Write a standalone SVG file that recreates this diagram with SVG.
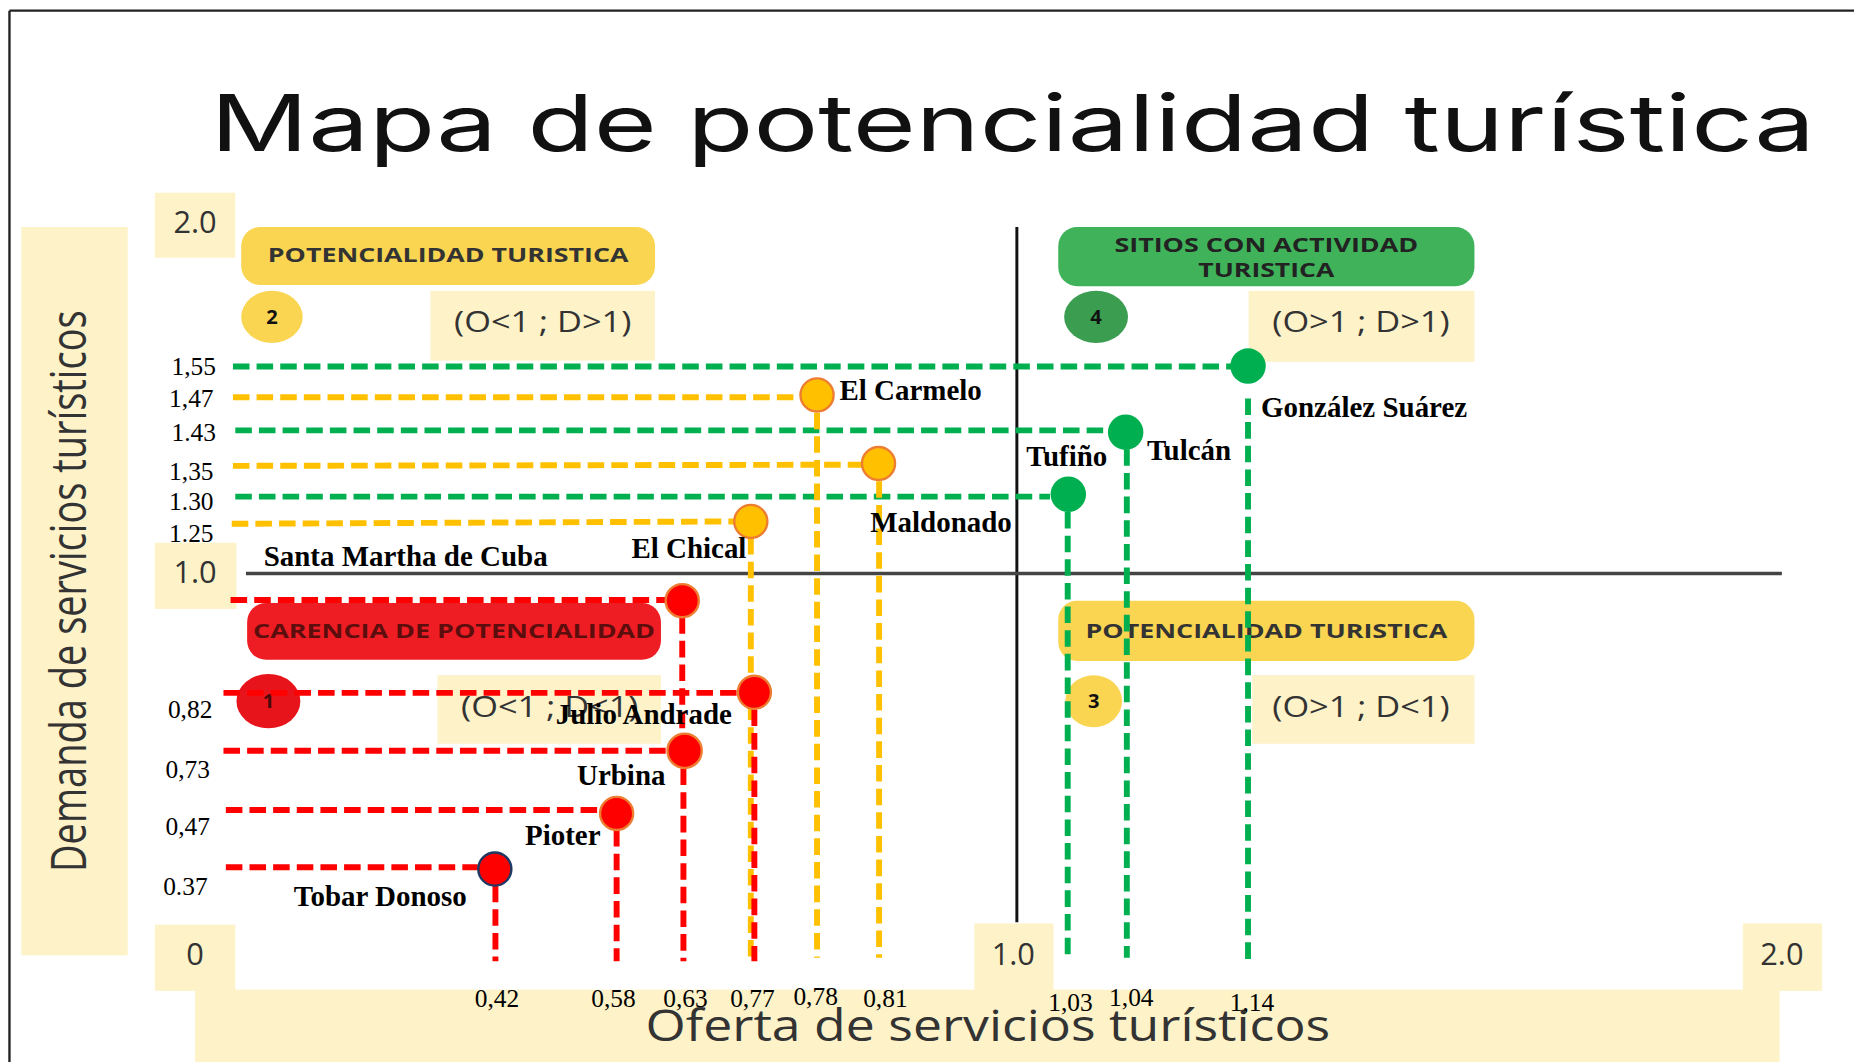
<svg xmlns="http://www.w3.org/2000/svg" width="1854" height="1062" viewBox="0 0 1854 1062">
<style>
.lb{fill:#fdf2c8}
.ax{font-family:"Open Sans","Noto Sans","Liberation Sans",sans-serif;fill:#333}
.pt{font-family:"Open Sans","Noto Sans","Liberation Sans",sans-serif;font-weight:bold;font-size:17px;text-anchor:middle}
.cd{font-family:"Open Sans","Noto Sans","Liberation Sans",sans-serif;font-size:25px;fill:#333;text-anchor:middle}
.num{font-family:"Liberation Serif","Times New Roman",serif;font-size:21.5px;fill:#000}
.nm{font-family:"Liberation Serif","Times New Roman",serif;font-size:24.5px;font-weight:bold;fill:#000}
.dg,.dy,.dr{stroke-width:5;stroke-dasharray:14 6;fill:none}
.dg{stroke:#00b050}.dy{stroke:#ffc000}.dr{stroke:#ff0000}
.cg{fill:#00b050}
.cy{fill:#ffc000;stroke:#ed7d31;stroke-width:2}
.cr{fill:#ff0000;stroke:#ed7d31;stroke-width:2}
</style>
<rect width="1854" height="1062" fill="#fff"/>
<g transform="scale(1.1824)">
<g id="frame">
<line x1="8" y1="9" x2="1570" y2="9" stroke="#222" stroke-width="2"/>
<line x1="8" y1="9" x2="8" y2="900" stroke="#222" stroke-width="2"/>
</g>
<g id="title">
<text x="178" y="128" font-family="Inter,'Open Sans','Noto Sans',sans-serif" font-size="66" fill="#111" textLength="1357" lengthAdjust="spacingAndGlyphs">Mapa de potencialidad turística</text>
</g>
<g id="axes">
<rect class="lb" x="18" y="192" width="90" height="616"/>
<text class="ax" transform="translate(73,500) rotate(-90)" font-size="42" text-anchor="middle" textLength="475" lengthAdjust="spacingAndGlyphs">Demanda de servicios turísticos</text>
<rect class="lb" x="131" y="163" width="68" height="55"/>
<rect class="lb" x="131" y="459" width="69" height="56"/>
<rect class="lb" x="131" y="782" width="68" height="56"/>
<rect class="lb" x="165" y="837" width="1340" height="65"/>
<rect class="lb" x="824" y="781" width="67" height="57"/>
<rect class="lb" x="1474" y="781" width="67" height="57"/>
<text class="ax" x="165" y="197" font-size="26" text-anchor="middle">2.0</text>
<text class="ax" x="165" y="493" font-size="26" text-anchor="middle">1.0</text>
<text class="ax" x="165" y="816" font-size="26" text-anchor="middle">0</text>
<text class="ax" x="857" y="816" font-size="26" text-anchor="middle">1.0</text>
<text class="ax" x="1507" y="816" font-size="26" text-anchor="middle">2.0</text>
<text class="ax" x="835.5" y="880" font-size="37" text-anchor="middle" textLength="579" lengthAdjust="spacingAndGlyphs">Oferta de servicios turísticos</text>
<line x1="860" y1="192" x2="860" y2="780" stroke="#111" stroke-width="2.5"/>
<line x1="208" y1="485" x2="1507" y2="485" stroke="#444" stroke-width="3"/>
</g>
<g id="q2">
<rect x="204" y="192" width="350" height="49" rx="16" fill="#fad552"/>
<text class="pt" x="379" y="222" fill="#333" textLength="305" lengthAdjust="spacingAndGlyphs">POTENCIALIDAD TURISTICA</text>
<ellipse cx="230" cy="268" rx="26" ry="22" fill="#fad552"/>
<text class="pt" x="230" y="274" font-size="16" fill="#111">2</text>
<rect class="lb" x="364" y="246" width="190" height="59"/>
<text class="cd" x="459" y="281" textLength="150" lengthAdjust="spacingAndGlyphs">(O&lt;1 ; D&gt;1)</text>
</g>
<g id="q4">
<rect x="895" y="192" width="352" height="50" rx="16" fill="#40b35a"/>
<text class="pt" x="1071" y="213" fill="#222" textLength="257" lengthAdjust="spacingAndGlyphs">SITIOS CON ACTIVIDAD</text>
<text class="pt" x="1071" y="234" fill="#222" textLength="115" lengthAdjust="spacingAndGlyphs">TURISTICA</text>
<ellipse cx="927" cy="268" rx="27" ry="22" fill="#3a9d50"/>
<text class="pt" x="927" y="274" font-size="16" fill="#111">4</text>
<rect class="lb" x="1056" y="246" width="191" height="60"/>
<text class="cd" x="1151" y="281" textLength="150" lengthAdjust="spacingAndGlyphs">(O&gt;1 ; D&gt;1)</text>
</g>
<g id="q3">
<rect x="895" y="508" width="352" height="51" rx="16" fill="#fad552"/>
<text class="pt" x="1071" y="540" fill="#333" textLength="306" lengthAdjust="spacingAndGlyphs">POTENCIALIDAD TURISTICA</text>
<ellipse cx="925" cy="593" rx="24" ry="22" fill="#fad552"/>
<text class="pt" x="925" y="599" font-size="16" fill="#111">3</text>
<rect class="lb" x="1059" y="571" width="188" height="58"/>
<text class="cd" x="1151" y="606" textLength="150" lengthAdjust="spacingAndGlyphs">(O&gt;1 ; D&lt;1)</text>
</g>
<g id="q1">
<rect x="209" y="510" width="350" height="48" rx="16" fill="#ee1d23"/>
<text class="pt" x="384" y="540" fill="#5c0d0d" textLength="340" lengthAdjust="spacingAndGlyphs">CARENCIA DE POTENCIALIDAD</text>
<ellipse cx="227" cy="593" rx="27" ry="23" fill="#e8141c"/>
<text class="pt" x="227" y="599" font-size="16" fill="#4a0a0a">1</text>
<rect class="lb" x="370" y="571" width="189" height="58"/>
<text class="cd" x="465" y="606" textLength="150" lengthAdjust="spacingAndGlyphs">(O&lt;1 ; D&lt;1)</text>
</g>
<g id="ticks">
<text class="num" x="145" y="317">1,55</text>
<text class="num" x="143" y="344">1,47</text>
<text class="num" x="145" y="373">1.43</text>
<text class="num" x="143" y="406">1,35</text>
<text class="num" x="143" y="431">1.30</text>
<text class="num" x="143" y="458">1.25</text>
<text class="num" x="142" y="607">0,82</text>
<text class="num" x="140" y="658">0,73</text>
<text class="num" x="140" y="706">0,47</text>
<text class="num" x="138" y="757">0.37</text>
<text class="num" x="401.5" y="852">0,42</text>
<text class="num" x="500" y="852">0,58</text>
<text class="num" x="561" y="852">0,63</text>
<text class="num" x="617.5" y="852">0,77</text>
<text class="num" x="671" y="850">0,78</text>
<text class="num" x="730" y="852">0,81</text>
<text class="num" x="886.5" y="855">1,03</text>
<text class="num" x="938" y="851">1,04</text>
<text class="num" x="1040" y="855">1,14</text>
</g>
<g id="connectors">
<line class="dg" x1="197" y1="310" x2="1042" y2="310"/>
<line class="dy" x1="197" y1="336" x2="677" y2="336"/>
<line class="dg" x1="199" y1="364" x2="937" y2="364"/>
<line class="dy" x1="197" y1="394" x2="729" y2="393"/>
<line class="dg" x1="199" y1="420" x2="888" y2="420"/>
<line class="dy" x1="196" y1="443" x2="621" y2="441"/>
<line class="dr" x1="195" y1="507.5" x2="563" y2="507.5"/>
<line class="dr" x1="189" y1="586" x2="624" y2="586"/>
<line class="dr" x1="189" y1="635" x2="565" y2="635"/>
<line class="dr" x1="191" y1="685" x2="508" y2="685"/>
<line class="dr" x1="191" y1="733.5" x2="404" y2="733.5"/>
<line class="dg" x1="1055.5" y1="337" x2="1055.5" y2="812"/>
<line class="dg" x1="953" y1="380" x2="953" y2="810"/>
<line class="dg" x1="903" y1="433" x2="903" y2="810"/>
<line class="dy" x1="691" y1="349" x2="691" y2="810"/>
<line class="dy" x1="743.5" y1="407" x2="743.5" y2="810"/>
<line class="dy" x1="635" y1="455" x2="635" y2="815"/>
<line class="dr" x1="577" y1="522" x2="577" y2="620"/>
<line class="dr" x1="638" y1="600" x2="638" y2="813"/>
<line class="dr" x1="578" y1="650" x2="578" y2="813"/>
<line class="dr" x1="521.5" y1="702" x2="521.5" y2="813"/>
<line class="dr" x1="419" y1="749" x2="419" y2="813"/>
</g>
<g id="gonzalez-suarez"><circle class="cg" cx="1055.5" cy="309.6" r="15"/><text class="nm" x="1066.5" y="353">González Suárez</text></g>
<g id="tulcan"><circle class="cg" cx="952" cy="365.5" r="15"/><text class="nm" x="970" y="389">Tulcán</text></g>
<g id="tufino"><circle class="cg" cx="903.5" cy="418" r="15"/><text class="nm" x="868" y="394">Tufiño</text></g>
<g id="el-carmelo"><circle class="cy" cx="691" cy="334" r="14"/><text class="nm" x="710" y="338">El Carmelo</text></g>
<g id="maldonado"><circle class="cy" cx="743" cy="392" r="14"/><text class="nm" x="736" y="450">Maldonado</text></g>
<g id="el-chical"><circle class="cy" cx="635" cy="441" r="14"/><text class="nm" x="534" y="472">El Chical</text></g>
<g id="santa-martha"><circle class="cr" cx="577" cy="508" r="14"/><text class="nm" x="223" y="479">Santa Martha de Cuba</text></g>
<g id="julio-andrade"><circle class="cr" cx="638" cy="585.5" r="14"/><text class="nm" x="470" y="612">Julio Andrade</text></g>
<g id="urbina"><circle class="cr" cx="579" cy="635" r="14.5"/><text class="nm" x="488" y="664">Urbina</text></g>
<g id="pioter"><circle class="cr" cx="521.5" cy="688" r="14"/><text class="nm" x="444" y="715">Pioter</text></g>
<g id="tobar-donoso"><circle cx="418.5" cy="735" r="14" fill="#ff0000" stroke="#1f3864" stroke-width="2"/><text class="nm" x="248.5" y="766">Tobar Donoso</text></g>
</g>
</svg>
